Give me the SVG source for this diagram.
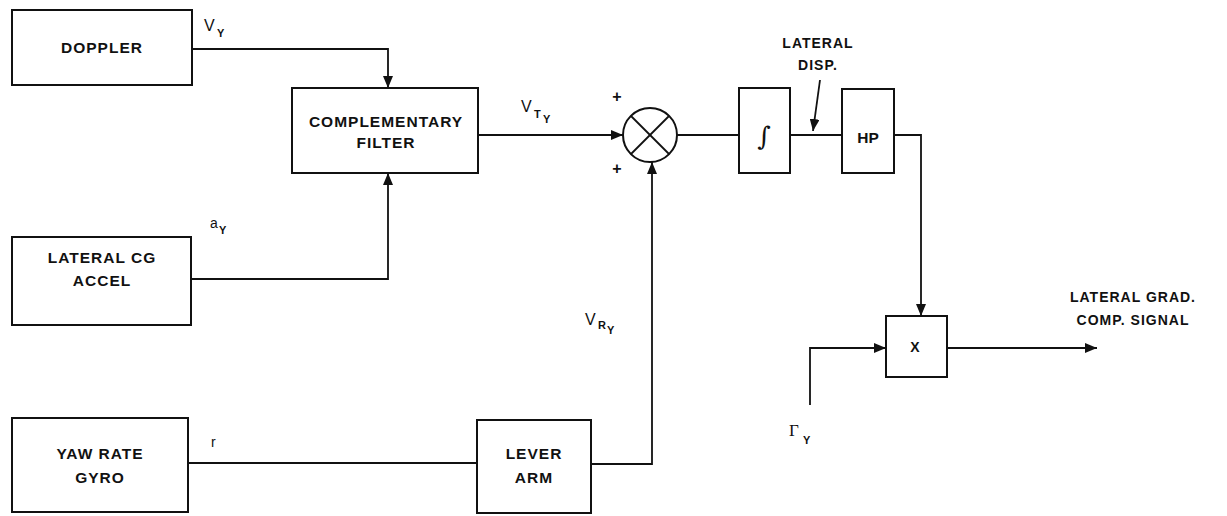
<svg xmlns="http://www.w3.org/2000/svg" width="1227" height="516" viewBox="0 0 1227 516">
<style>
.box{fill:none;stroke:#111;stroke-width:2}
.ln{fill:none;stroke:#111;stroke-width:1.8}
.t{font-family:"Liberation Sans",Arial,sans-serif;font-weight:bold;font-size:15.5px;fill:#111;text-anchor:middle;letter-spacing:1px}
.lab{font-family:"Liberation Sans",Arial,sans-serif;font-size:16px;fill:#111}
.sub{font-family:"Liberation Sans",Arial,sans-serif;font-weight:bold;font-size:11px;fill:#111}
</style>
<defs>
<marker id="ah" markerWidth="12" markerHeight="10" refX="12" refY="5" orient="auto" markerUnits="userSpaceOnUse">
<path d="M0,0 L12,5 L0,10 Z" fill="#111"/>
</marker>
</defs>
<rect width="1227" height="516" fill="#fff"/>

<g id="doppler"><rect class="box" x="12" y="10" width="180" height="75"/><text class="t" x="102" y="53">DOPPLER</text></g>
<g id="filter"><rect class="box" x="292" y="88" width="186" height="85"/><text class="t" x="386" y="127">COMPLEMENTARY</text><text class="t" x="386" y="148">FILTER</text></g>
<g id="accel"><rect class="box" x="12" y="237" width="179" height="88"/><text class="t" x="102" y="263">LATERAL CG</text><text class="t" x="102" y="286">ACCEL</text></g>
<g id="gyro"><rect class="box" x="12" y="418" width="176" height="94"/><text class="t" x="100" y="459">YAW RATE</text><text class="t" x="100" y="483">GYRO</text></g>
<g id="lever"><rect class="box" x="477" y="420" width="114" height="93"/><text class="t" x="534" y="459">LEVER</text><text class="t" x="534" y="483">ARM</text></g>
<g id="sum"><circle class="box" cx="650" cy="135" r="27"/><line class="ln" x1="631" y1="116" x2="669" y2="154"/><line class="ln" x1="669" y1="116" x2="631" y2="154"/>
<text class="t" x="617" y="102" style="font-size:16px;letter-spacing:0">+</text><text class="t" x="617" y="174" style="font-size:16px;letter-spacing:0">+</text></g>
<g id="integrator"><rect class="box" x="739" y="88" width="51" height="85"/><text x="764" y="145" text-anchor="middle" style="font-family:'DejaVu Serif',serif;font-style:italic;font-size:26px;fill:#111">∫</text></g>
<g id="hp"><rect class="box" x="842" y="89" width="52" height="84"/><text class="t" x="868" y="143" style="letter-spacing:0">HP</text></g>
<g id="mult"><rect class="box" x="886" y="316" width="61" height="61"/><text class="t" x="915" y="352" style="letter-spacing:0;font-size:14px">X</text></g>

<g id="connectors">
<polyline class="ln" points="192,49 388,49 388,88" marker-end="url(#ah)"/>
<polyline class="ln" points="192,279 388,279 388,173" marker-end="url(#ah)"/>
<line class="ln" x1="188" y1="463" x2="477" y2="463"/>
<polyline class="ln" points="591,464 652,464 652,162" marker-end="url(#ah)"/>
<line class="ln" x1="478" y1="135" x2="623" y2="135" marker-end="url(#ah)"/>
<line class="ln" x1="677" y1="135" x2="739" y2="135"/>
<line class="ln" x1="790" y1="135" x2="842" y2="135"/>
<line class="ln" x1="820" y1="80" x2="813" y2="131" marker-end="url(#ah)"/>
<polyline class="ln" points="894,135 921,135 921,316" marker-end="url(#ah)"/>
<polyline class="ln" points="810,405 810,348 886,348" marker-end="url(#ah)"/>
<line class="ln" x1="947" y1="348" x2="1097" y2="348" marker-end="url(#ah)"/>
</g>

<g id="labels">
<text class="lab" x="204" y="31">V</text><text class="sub" x="217" y="37">Y</text>
<text class="lab" x="210" y="228" style="font-size:14px">a</text><text class="sub" x="219" y="234">Y</text>
<text class="lab" x="211" y="447" style="font-size:14px">r</text>
<text class="lab" x="521" y="112">V</text><text class="sub" x="534" y="118">T</text><text class="sub" x="543" y="123">Y</text>
<text class="lab" x="585" y="325">V</text><text class="sub" x="598" y="329">R</text><text class="sub" x="607" y="334">Y</text>
<text x="789" y="436" style="font-family:'Liberation Serif',serif;font-size:17px;fill:#111">Γ</text><text class="sub" x="803" y="444">Y</text>
<text class="t" x="818" y="48" style="font-size:14px">LATERAL</text><text class="t" x="818" y="70" style="font-size:14px">DISP.</text>
<text class="t" x="1133" y="302" style="font-size:14px">LATERAL GRAD.</text><text class="t" x="1133" y="325" style="font-size:14px">COMP. SIGNAL</text>
</g>
</svg>
